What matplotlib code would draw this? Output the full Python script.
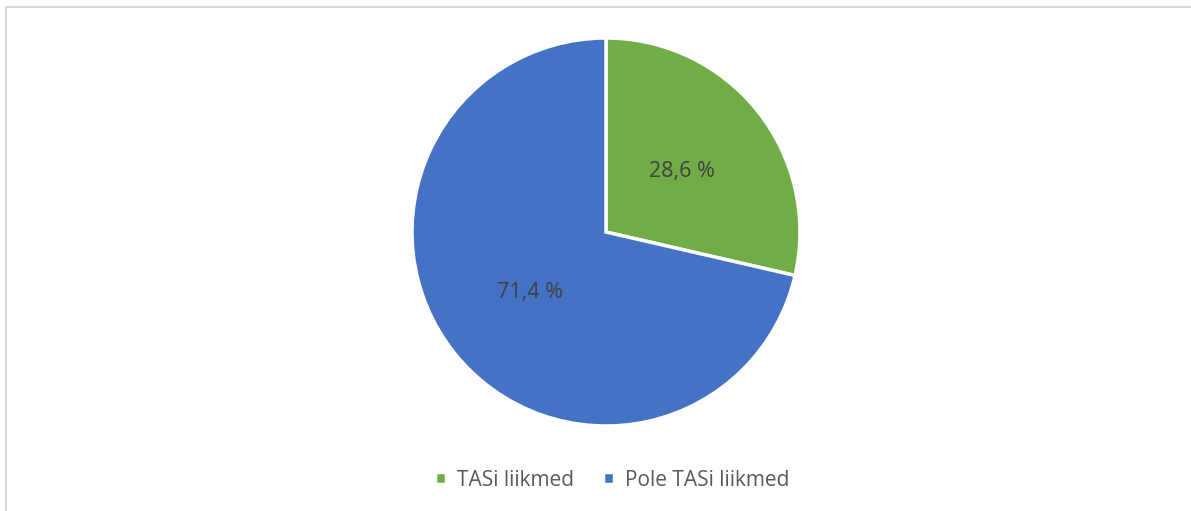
import matplotlib.pyplot as plt
from matplotlib.lines import Line2D

plt.rcParams['font.family'] = ['Open Sans', 'DejaVu Sans']

labels = ['TASi liikmed', 'Pole TASi liikmed']
shares = [28.6, 71.4]
colors = ['#70AD47', '#4472C4']

W, H = 1191, 511
fig = plt.figure(figsize=(W / 100, H / 100), dpi=100)

# light grey frame (only top and left edges show)
fig.add_artist(Line2D([6 / W, 1], [1 - 7 / H, 1 - 7 / H], transform=fig.transFigure,
                      color='#D9D9D9', lw=1.5))
fig.add_artist(Line2D([6 / W, 6 / W], [0, 1 - 7 / H], transform=fig.transFigure,
                      color='#D9D9D9', lw=1.5))

cx, cy, r = 606, 232, 194
ax = fig.add_axes([(cx - r) / W, (H - cy - r) / H, 2 * r / W, 2 * r / H])

wedges, texts, autotexts = ax.pie(
    shares, colors=colors, startangle=90, counterclock=False,
    autopct=lambda p: f'{p:.1f} %'.replace('.', ','), pctdistance=0.5,
    wedgeprops=dict(edgecolor='white', linewidth=2.5),
    textprops=dict(color='#404040', fontsize=15.5))
ax.set_xlim(-1, 1)
ax.set_ylim(-1, 1)
ax.set_aspect('equal')

fig.legend(wedges, labels, loc='center', bbox_to_anchor=(612 / W, 1 - 480 / H),
           ncol=2, frameon=False, fontsize=15, labelcolor='#595959',
           handlelength=0.55, handleheight=0.55, handletextpad=0.5, columnspacing=1.4)

plt.savefig('out.png', dpi=100)
